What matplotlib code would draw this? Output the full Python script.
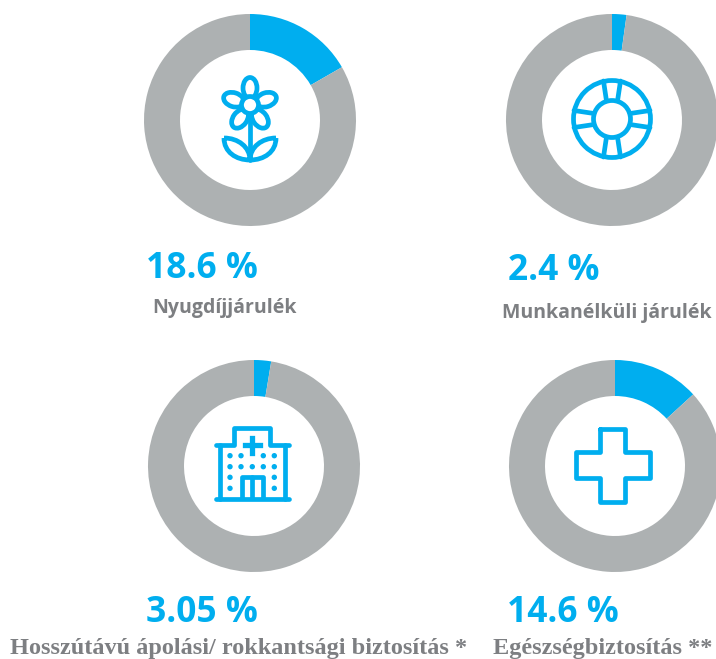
import numpy as np
import matplotlib
matplotlib.use('Agg')
import matplotlib.pyplot as plt
from matplotlib.patches import Circle, Ellipse, PathPatch
from matplotlib.path import Path

# values shown in the labels
value_labels = ['18.6 %', '2.4 %', '3.05 %', '14.6 %']
names = ['Nyugdíjjárulék', 'Munkanélküli járulék',
         'Hosszútávú ápolási/ rokkantsági biztosítás *', 'Egészségbiztosítás **']
# share of the ring painted blue
blue_share = [16.7, 2.2, 2.6, 13.2]
rest_share = [83.3, 97.8, 97.4, 86.8]

BLUE = '#00aeef'
GREY = '#adb1b2'
TXT = '#7d7f82'
LW = 3.4

fig = plt.figure(figsize=(7.16, 6.59), dpi=100)
ax = fig.add_axes([0, 0, 1, 1])

# ring positions in pixels
centers = [(250, 120), (612, 120), (254, 466), (615, 466)]
for i in range(4):
    ax.pie([blue_share[i], rest_share[i]], colors=[BLUE, GREY], center=centers[i],
           radius=106, startangle=-90, counterclock=True,
           wedgeprops=dict(width=36, linewidth=0))

ax.set_xlim(0, 716)
ax.set_ylim(659, 0)
ax.set_aspect('auto')
ax.axis('off')


def stroke(patch, face='none'):
    patch.set(edgecolor=BLUE, facecolor=face, linewidth=LW, joinstyle='round')
    ax.add_patch(patch)


def line(xs, ys):
    ax.plot(xs, ys, color=BLUE, lw=LW, solid_capstyle='round', solid_joinstyle='round')


# flower
cx, cy = 250, 105
for ang in [0, 72, 144, 216, 288]:
    a = np.radians(ang)
    stroke(Ellipse((cx + 17 * np.sin(a), cy - 17 * np.cos(a)), 14, 21, angle=ang))
stroke(Circle((cx, cy), 8.5), face='white')
line([250, 250], [118, 160])
for s in [-1, 1]:
    x0 = 250 + s * 26
    verts = [(x0, 138), (250 + s * 12, 138), (250, 147), (250, 160),
             (250 + s * 14, 160), (x0, 152), (x0, 138)]
    codes = [Path.MOVETO, Path.CURVE4, Path.CURVE4, Path.CURVE4,
             Path.CURVE4, Path.CURVE4, Path.CURVE4]
    stroke(PathPatch(Path(verts, codes)))

# lifebuoy
lx, ly = 612, 119
stroke(Circle((lx, ly), 38.5))
stroke(Circle((lx, ly), 18.5))
for ang in [0, 90, 180, 270]:
    a = np.radians(ang)
    rot = np.array([[np.cos(a), -np.sin(a)], [np.sin(a), np.cos(a)]])
    for s in [-1, 1]:
        q1 = rot @ np.array([s * 5.5, -18.0])
        q2 = rot @ np.array([s * 8.5, -38.0])
        line([lx + q1[0], lx + q2[0]], [ly + q1[1], ly + q2[1]])

# hospital
line([216, 234, 234, 270, 270, 289], [445, 445, 428, 428, 445, 445])
line([220, 220], [445, 499])
line([285, 285], [445, 499])
line([216, 289], [499, 499])
ax.plot([244.5, 260], [445, 445], color=BLUE, lw=3.8)
ax.plot([252.3, 252.3], [437.5, 452.5], color=BLUE, lw=3.8)
for row, xs in zip([455.7, 466.7, 477.3, 488.3],
                   [[230, 241, 263.3, 274.3], [230, 241, 252.3, 263.3, 274.3],
                    [230, 274.3], [230, 274.3]]):
    for x in xs:
        ax.add_patch(Circle((x, row), 2.7, color=BLUE, lw=0))
line([241.7, 241.7, 263.3, 263.3], [498, 477, 477, 498])
line([252.3, 252.3], [477, 498])

# cross
cross_x = [600, 625, 625, 650, 650, 625, 625, 600, 600, 576, 576, 600, 600]
cross_y = [429, 429, 452, 452, 478, 478, 502, 502, 478, 478, 452, 452, 429]
line(cross_x, cross_y)

# texts
val_pos = [(202, 278), (554, 280), (202, 622), (563, 622)]
for (x, y), t in zip(val_pos, value_labels):
    ax.text(x, y, t, color=BLUE, fontsize=25.5, family='Open Sans', weight='bold',
            ha='center', va='baseline')
ax.text(224.5, 308.5, names[0], color=TXT, fontsize=14, family='Open Sans', weight='bold',
        ha='center', va='center')
ax.text(607, 313, names[1], color=TXT, fontsize=14, family='Open Sans', weight='bold',
        ha='center', va='center')
ax.text(239, 654, names[2], color=TXT, fontsize=17.5, family='Liberation Serif', weight='bold',
        ha='center', va='baseline')
ax.text(603, 654, names[3], color=TXT, fontsize=17.5, family='Liberation Serif', weight='bold',
        ha='center', va='baseline')

fig.savefig('out.png', dpi=100)
